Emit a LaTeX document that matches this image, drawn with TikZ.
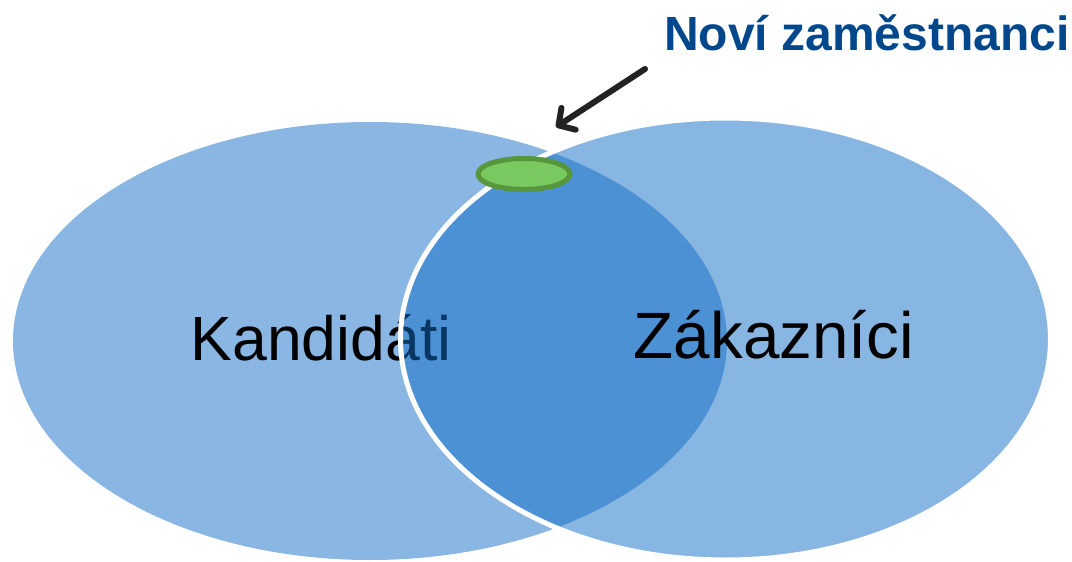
\documentclass[tikz,border=0pt]{standalone}
\usepackage{fontspec}
\setmainfont{Liberation Sans}
\usetikzlibrary{shapes.geometric,arrows.meta}
\definecolor{setblue}{RGB}{16,110,200}
\definecolor{lightblue}{RGB}{137,182,226}
\definecolor{titleblue}{RGB}{0,71,140}
\definecolor{greenfill}{RGB}{122,201,96}
\definecolor{greenline}{RGB}{88,150,60}
\definecolor{arrowgray}{RGB}{34,34,34}
\tikzset{
  setshape/.style={ellipse, inner sep=0pt},
  settext/.style={text=black, inner sep=0pt, anchor=base},
  pointer/.style={draw=arrowgray, line width=6pt, line cap=round, -{Straight Barb[length=12pt,width=26pt,line cap=round,line join=round]}},
}
\begin{document}
\begin{tikzpicture}[x=1pt,y=-1pt]
\useasboundingbox (0,0) rectangle (1072,562);
% left set
\node[setshape, fill=lightblue, minimum width=714pt, minimum height=438pt] (cand) at (370,341) {};
\node[settext, font=\fontsize{62.5}{62.5}\selectfont] (candt) at (321,360) {Kandidáti};
% right set (semi-transparent over left)
\node[setshape, fill=setblue, fill opacity=0.5, draw=white, draw opacity=1, line width=5pt, minimum width=650pt, minimum height=442pt] (cust) at (725.5,339) {};
\node[settext, font=\fontsize{65.5}{65.5}\selectfont] (custt) at (774,358) {Zákazníci};
% new employees
\node[setshape, fill=greenfill, draw=greenline, line width=5pt, minimum width=92pt, minimum height=31pt] (newemp) at (524,174) {};
\node[font=\bfseries\fontsize{48}{48}\selectfont, text=titleblue, inner sep=0pt, anchor=base] (title) at (867,50) {Noví zaměstnanci};
\coordinate (arrtail) at (645,69);
\coordinate (arrtip) at (556,127);
\draw[pointer] (arrtail) -- (arrtip);
\end{tikzpicture}
\end{document}
